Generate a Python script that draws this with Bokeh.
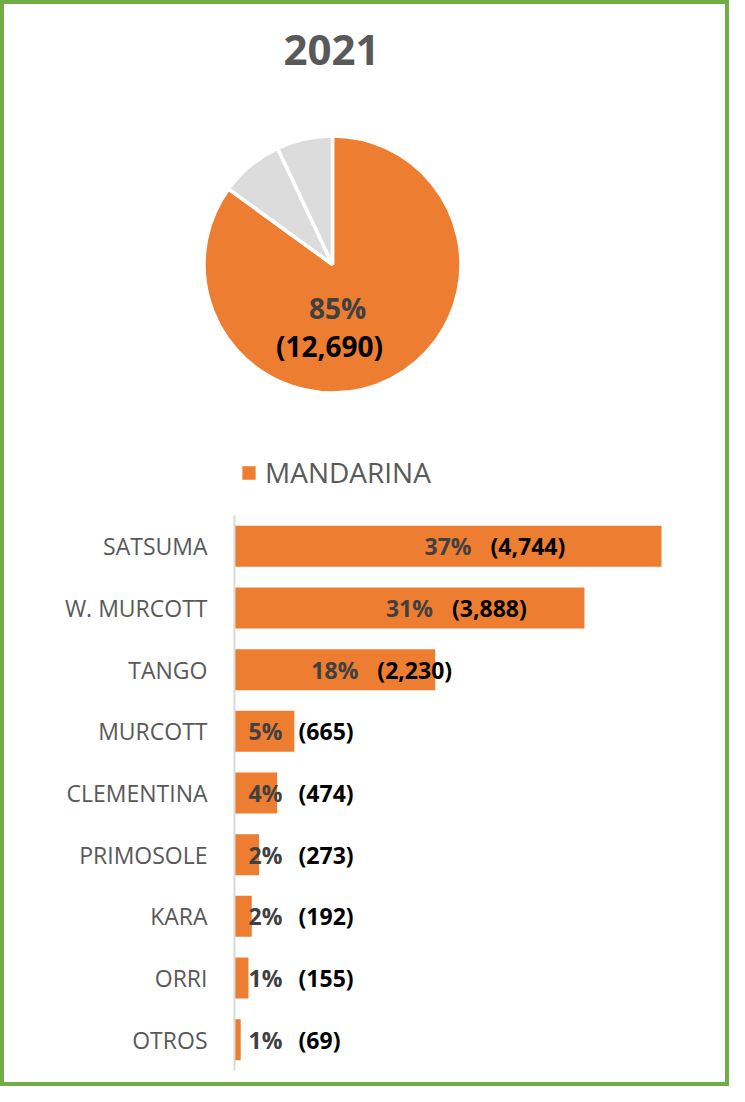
import math
from bokeh.plotting import figure
from bokeh.layouts import column
from bokeh.models import Range1d, FactorRange, ColumnDataSource, Legend, LegendItem
from bokeh.core.properties import value
from bokeh.embed import file_html
from bokeh.resources import INLINE

# ---------------- data ----------------
title_text = "2021"
pie_names = ["MANDARINA", "OTRO A", "OTRO B"]
pie_values = [12690, 1190, 1050]
pie_colors = ["#ED7D31", "#DCDCDC", "#DCDCDC"]

varieties = ["SATSUMA", "W. MURCOTT", "TANGO", "MURCOTT", "CLEMENTINA",
             "PRIMOSOLE", "KARA", "ORRI", "OTROS"]
variety_values = [4744, 3888, 2230, 665, 474, 273, 192, 155, 69]

ORANGE = "#ED7D31"
FONT = "Open Sans"

# ---------------- top figure: title + pie + legend ----------------
W = 721
H1 = 496
p1 = figure(width=W, height=H1, x_range=Range1d(0, W), y_range=Range1d(0, H1),
            output_backend="svg", toolbar_location=None, min_border=0,
            outline_line_color=None)
p1.frame_align = False
p1.axis.visible = False
p1.grid.visible = False

total = sum(pie_values)
fr = [v / total for v in pie_values]
starts, ends = [], []
acc = 0.0
for f in fr:
    starts.append(math.pi / 2 - acc * 2 * math.pi)
    acc += f
    ends.append(math.pi / 2 - acc * 2 * math.pi)
pie_src = ColumnDataSource(dict(name=pie_names, value=pie_values, start=starts,
                                end=ends, color=pie_colors))
cx, cy, rad = 328, 236, 128.5
wr = p1.wedge(x=cx, y=cy, radius=rad, start_angle="start", end_angle="end",
              direction="clock", fill_color="color", line_color="white",
              line_width=3.5, source=pie_src)

# title
p1.text(x=[327], y=[451], text=[title_text], text_align="center",
        text_baseline="alphabetic", text_font=value(FONT), text_font_style="bold",
        text_font_size="42px", text_color="#595959")

# pie label
pct_main = f"{round(100 * pie_values[0] / total)}%"
val_main = f"({pie_values[0]:,})"
p1.text(x=[cx + 5], y=[cy - 43], text=[pct_main], text_align="center",
        text_baseline="alphabetic", text_font=value(FONT), text_font_style="bold",
        text_font_size="28px", text_color="#404040")
p1.text(x=[cx - 3], y=[cy - 81], text=[val_main], text_align="center",
        text_baseline="alphabetic", text_font=value(FONT), text_font_style="bold",
        text_font_size="28px", text_color="#000000")

legend = Legend(items=[LegendItem(label=pie_names[0], renderers=[wr], index=0)],
                location=(234, 9), orientation="horizontal",
                padding=0, margin=0, spacing=0, border_line_color=None,
                background_fill_alpha=0, glyph_width=21, glyph_height=21,
                label_standoff=6, label_text_font=FONT,
                label_text_font_size="28px", label_text_color="#595959")
p1.add_layout(legend)

# ---------------- bar figure ----------------
H2 = 1078 - H1
cats = varieties[::-1]
vals = variety_values[::-1]
vtotal = sum(variety_values)
pcts = [f"{round(100 * v / vtotal)}%" for v in vals]
pct_x = [max(v / 2, 345) for v in vals]
offs = [14 + 9.5 * len(s) for s in pcts]
bar_src = ColumnDataSource(dict(cat=cats, val=vals, pct=pcts, px=pct_x, off=offs,
                                lab=[f"({v:,})" for v in vals]))

p2 = figure(width=W, height=H2, y_range=FactorRange(*cats), x_range=Range1d(0, 5055),
            output_backend="svg", toolbar_location=None,
            min_border_left=230, min_border_right=36, min_border_top=15,
            min_border_bottom=12, outline_line_color=None, x_axis_location=None)
p2.frame_align = False
p2.grid.visible = False
p2.hbar(y="cat", right="val", left=0, height=0.665, fill_color=ORANGE,
        line_color=None, source=bar_src)
p2.text(x="px", y="cat", text="pct", text_align="center", text_baseline="middle",
        text_font=value(FONT), text_font_style="bold", text_font_size="23px",
        text_color="#404040", source=bar_src)
p2.text(x="px", y="cat", text="lab", x_offset="off", text_align="left",
        text_baseline="middle", text_font=value(FONT), text_font_style="bold",
        text_font_size="23px", text_color="#000000", source=bar_src)

ya = p2.yaxis[0]
ya.axis_line_color = "#D9D9D9"
ya.axis_line_width = 2
ya.major_tick_line_color = None
ya.minor_tick_line_color = None
ya.major_label_standoff = 21
ya.major_label_text_font = FONT
ya.major_label_text_font_size = "23px"
ya.major_label_text_color = "#595959"

layout = column(p1, p2, spacing=0,
                styles={"border": "4px solid #70AD47", "background-color": "white"})

open("out.html", "w").write(file_html(layout, INLINE))
